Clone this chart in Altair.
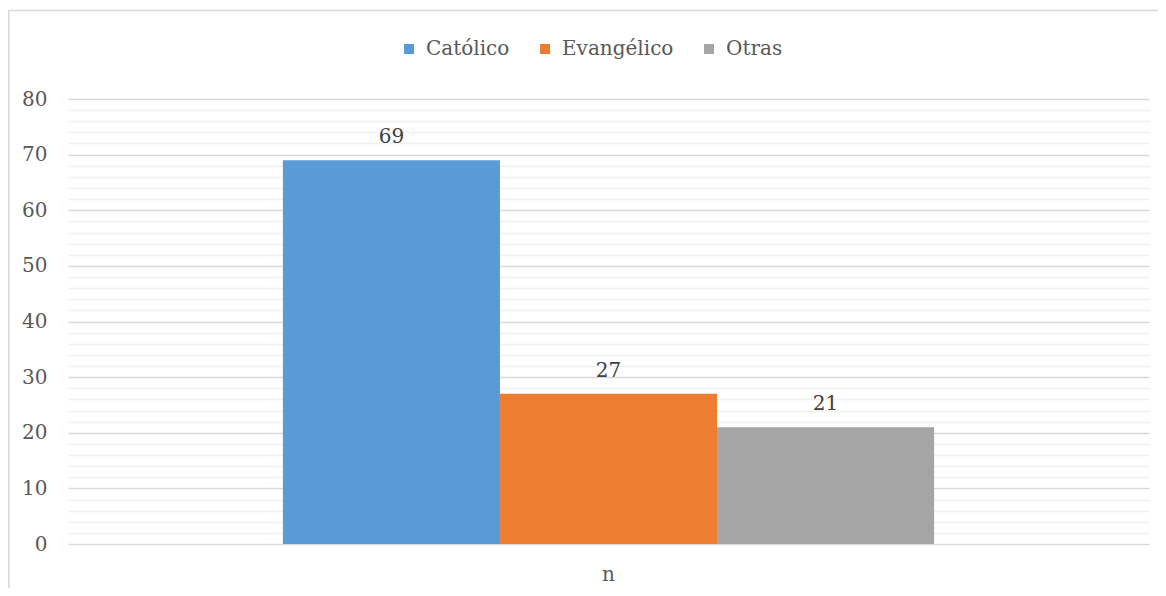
import altair as alt
import pandas as pd

religiones = ["Católico", "Evangélico", "Otras"]
valores = [69, 27, 21]
grupo = ["n", "n", "n"]
colores = ["#5B9BD5", "#ED7D31", "#A5A5A5"]

df = pd.DataFrame({"grupo": grupo, "religion": religiones, "valor": valores})

FONT = "DejaVu Serif"
FS = 20

x_enc = alt.X(
    "grupo:N",
    title=None,
    scale=alt.Scale(paddingInner=0, paddingOuter=0.33),
    axis=alt.Axis(labelAngle=0, domain=False, ticks=False, labelFontSize=FS,
                  labelColor="#595959", labelFont=FONT, labelPadding=20, grid=False),
)
xoff = alt.XOffset("religion:N", sort=religiones,
                   scale=alt.Scale(paddingInner=0, paddingOuter=0))
y_enc = alt.Y(
    "valor:Q",
    title=None,
    scale=alt.Scale(domain=[0, 80], nice=False),
    axis=alt.Axis(
        values=list(range(0, 81, 2)),
        labelExpr="datum.value % 10 === 0 ? datum.label : ''",
        domain=False, ticks=False, labelFontSize=FS, labelColor="#595959",
        labelFont=FONT, labelPadding=21,
        gridColor={"condition": {"test": "datum.value % 10 === 0", "value": "#d9d9d9"}, "value": "#f0f0f0"},
        gridWidth=1.5,
    ),
)

base = alt.Chart(df)

bars = base.mark_bar().encode(
    x=x_enc,
    xOffset=xoff,
    y=y_enc,
    color=alt.Color(
        "religion:N",
        sort=religiones,
        scale=alt.Scale(domain=religiones, range=colores),
        legend=alt.Legend(
            title=None, orient="none", direction="horizontal",
            legendX=331, legendY=-60, symbolType="square", symbolSize=100,
            symbolStrokeWidth=0, labelFontSize=FS, labelFont=FONT,
            labelColor="#595959", labelOffset=7, columnPadding=25, padding=0,
        ),
    ),
)

labels = base.mark_text(fontSize=FS, font=FONT, color="#404040", baseline="middle", dy=-23).encode(
    x=x_enc,
    xOffset=xoff,
    y=y_enc,
    text="valor:Q",
)

frame = alt.Chart(alt.Data(values=[{}])).mark_rect(
    fill=None, stroke="#d9d9d9", strokeWidth=1.5
).encode(
    x=alt.value(-59.2), x2=alt.value(1300),
    y=alt.value(-88.5), y2=alt.value(700),
)

chart = alt.layer(frame, bars, labels).properties(
    width=1081, height=445,
    autosize=alt.AutoSizeParams(type="none"),
    padding={"left": 60, "top": 91, "right": 9, "bottom": 44},
).configure(background="white").configure_view(strokeWidth=0, stroke="transparent")

chart.save("out.html", embed_options={"renderer": "svg", "actions": False})
